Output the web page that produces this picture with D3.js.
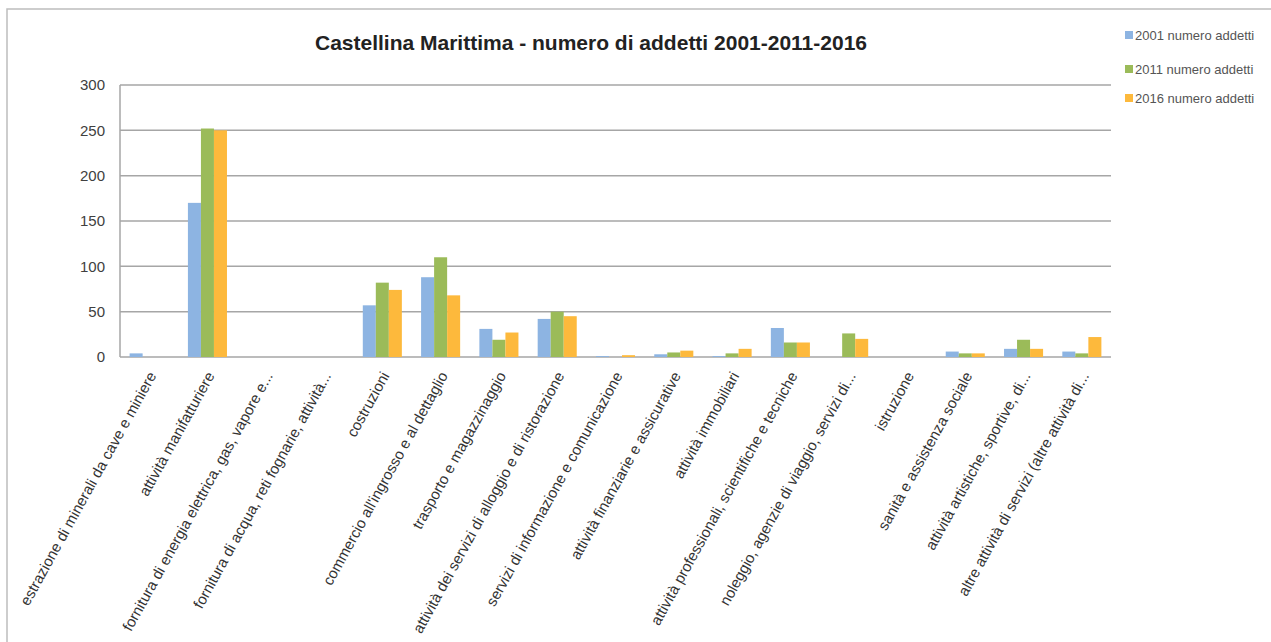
<!DOCTYPE html>
<head>
<meta charset="utf-8">
<title> Castellina Marittima </title>
<script type="text/javascript" src="https://cdn.jsdelivr.net/npm/d3@7/dist/d3.min.js"></script>
<style>
body {
	margin: 0;
	background: #fff;
	}
text {
	font-family: "Liberation Sans", Arial, sans-serif;
	}
</style>
</head>

<body>
<script>
// categories of economic activity (x axis)
var categories = [
	"estrazione di minerali da cave e miniere",
	"attività manifatturiere",
	"fornitura di energia elettrica, gas, vapore e...",
	"fornitura di acqua, reti fognarie, attività...",
	"costruzioni",
	"commercio all'ingrosso e al dettaglio",
	"trasporto e magazzinaggio",
	"attività dei servizi di alloggio e di ristorazione",
	"servizi di informazione e comunicazione",
	"attività finanziarie e assicurative",
	"attività immobiliari",
	"attività professionali, scientifiche e tecniche",
	"noleggio, agenzie di viaggio, servizi di...",
	"istruzione",
	"sanità e assistenza sociale",
	"attività artistiche, sportive, di...",
	"altre attività di servizi (altre attività di..."
];

var seriesNames = ["2001 numero addetti", "2011 numero addetti", "2016 numero addetti"];

// values
var addetti2001 = [4, 170, 0, 0, 57, 88, 31, 42, 1, 3, 1, 32, 0, 0, 6, 9, 6];
var addetti2011 = [0, 252, 0, 0, 82, 110, 19, 50, 0, 5, 4, 16, 26, 0, 4, 19, 4];
var addetti2016 = [0, 250, 0, 0, 74, 68, 27, 45, 2, 7, 9, 16, 20, 0, 4, 9, 22];

var yTicks = [0, 50, 100, 150, 200, 250, 300];

var colors = ["#8db4e2", "#9bbb59", "#fdb93c"];

var width = 1271;
var height = 642;

var svg = d3.select("body").append("svg")
	.attr("width", width)
	.attr("height", height);

// outer frame of the chart
svg.append("rect")
	.attr("x", 7)
	.attr("y", 9)
	.attr("width", 1300)
	.attr("height", 700)
	.style("fill", "none")
	.style("stroke", "#bdbdbd")
	.style("stroke-width", 1.5);

var x = d3.scaleBand()
	.domain(categories)
	.range([120, 1111])
	.paddingInner(0.33)
	.paddingOuter(0.165);

var xSeries = d3.scaleBand()
	.domain(seriesNames)
	.range([0, x.bandwidth()]);

var y = d3.scaleLinear()
	.domain([0, 300])
	.range([357, 85]);

// gridlines
svg.selectAll(".grid")
	.data(yTicks)
	.enter().append("line")
	.attr("class", "grid")
	.attr("x1", 120)
	.attr("x2", 1111)
	.attr("y1", function(d) { return y(d); })
	.attr("y2", function(d) { return y(d); })
	.style("stroke", "#a6a6a6")
	.style("stroke-width", 1.5);

// left axis line
svg.append("line")
	.attr("x1", 120)
	.attr("x2", 120)
	.attr("y1", y(300))
	.attr("y2", y(0))
	.style("stroke", "#a6a6a6")
	.style("stroke-width", 1.5);

// y axis labels
var yAxis = d3.axisLeft(y).tickValues(yTicks).tickSize(0).tickPadding(15);
var gy = svg.append("g")
	.attr("transform", "translate(120,0)")
	.call(yAxis);
gy.select(".domain").remove();
gy.selectAll("text")
	.style("font-size", "15px")
	.style("fill", "#404040");

// bars
var series = [addetti2001, addetti2011, addetti2016];
series.forEach(function(values, s) {
	svg.selectAll(".bar" + s)
		.data(values)
		.enter().append("rect")
		.attr("class", "bar" + s)
		.attr("x", function(d, i) { return x(categories[i]) + xSeries(seriesNames[s]); })
		.attr("y", function(d) { return y(d); })
		.attr("width", xSeries.bandwidth())
		.attr("height", function(d) { return y(0) - y(d); })
		.style("fill", colors[s]);
});

// category labels, rotated
svg.selectAll(".xlabel")
	.data(categories)
	.enter().append("text")
	.attr("class", "xlabel")
	.attr("transform", function(d) {
		return "translate(" + (x(d) + x.bandwidth() / 2 + 3) + ",373) rotate(-61)";
	})
	.attr("dy", "0.35em")
	.attr("text-anchor", "end")
	.style("font-size", "15px")
	.style("fill", "#333")
	.text(function(d) { return d; });

// title
svg.append("text")
	.attr("x", 591)
	.attr("y", 50)
	.attr("text-anchor", "middle")
	.style("font-size", "21px")
	.style("font-weight", "bold")
	.style("fill", "#222")
	.text("Castellina Marittima - numero di addetti 2001-2011-2016");

// legend
var legendY = [35, 69, 98];
var legend = svg.selectAll(".legend")
	.data(seriesNames)
	.enter().append("g")
	.attr("class", "legend")
	.attr("transform", function(d, i) { return "translate(1125," + legendY[i] + ")"; });

legend.append("rect")
	.attr("x", 0)
	.attr("y", -4)
	.attr("width", 8)
	.attr("height", 8)
	.style("fill", function(d, i) { return colors[i]; });

legend.append("text")
	.attr("x", 10)
	.attr("dy", "0.35em")
	.style("font-size", "13px")
	.style("fill", "#555")
	.text(function(d) { return d; });
</script>
</body>
